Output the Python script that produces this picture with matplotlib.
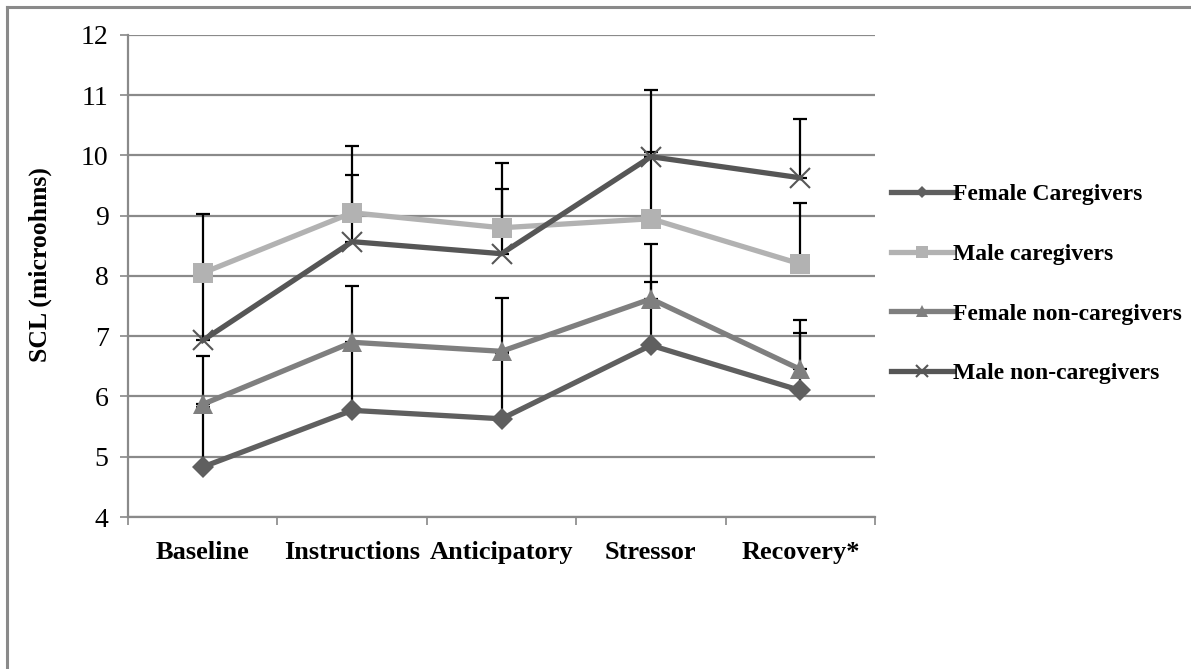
import matplotlib
matplotlib.use("Agg")
import matplotlib.pyplot as plt
from matplotlib.lines import Line2D
import numpy as np

categories = ["Baseline", "Instructions", "Anticipatory", "Stressor", "Recovery*"]
series_names = ["Female Caregivers", "Male caregivers", "Female non-caregivers", "Male non-caregivers"]
female_caregivers = [4.83, 5.77, 5.63, 6.85, 6.10]
male_caregivers = [8.05, 9.05, 8.80, 8.95, 8.20]
female_noncaregivers = [5.87, 6.90, 6.75, 7.62, 6.45]
male_noncaregivers = [6.93, 8.57, 8.37, 9.98, 9.63]
err_female_caregivers = [1.00, 1.10, 1.10, 1.05, 0.95]
err_male_caregivers = [0.98, 1.11, 1.07, 1.10, 1.01]
err_female_noncaregivers = [0.81, 0.93, 0.89, 0.91, 0.82]
err_male_noncaregivers = [1.10, 1.11, 1.07, 1.10, 0.98]
yticks = [4, 5, 6, 7, 8, 9, 10, 11, 12]

values = [female_caregivers, male_caregivers, female_noncaregivers, male_noncaregivers]
errors = [err_female_caregivers, err_male_caregivers, err_female_noncaregivers, err_male_noncaregivers]
colors = ["#5f5f5f", "#b2b2b2", "#7f7f7f", "#565656"]
markers = ["D", "s", "^", "x"]
msizes = [11, 14, 15, 14]

plt.rcParams["font.family"] = ["Liberation Serif", "DejaVu Serif"]

fig = plt.figure(figsize=(11.91, 6.69), dpi=100)
ax = fig.add_axes([0.1075, 0.2272, 0.6272, 0.7205])

x = np.arange(len(categories))
for i, (v, e) in enumerate(zip(values, errors)):
    ax.errorbar(x, v, yerr=[np.zeros(len(e)), e], fmt="none", ecolor="black",
                elinewidth=1.6, capsize=5, capthick=1.6, zorder=3)
handles = []
for i, (v, name) in enumerate(zip(values, series_names)):
    mk = markers[i]
    kw = dict(markeredgewidth=1.5) if mk == "x" else dict(markeredgewidth=0)
    ax.plot(x, v, color=colors[i], lw=3.8, marker=mk, markersize=msizes[i],
            markerfacecolor=colors[i], markeredgecolor=colors[i], zorder=4 + i,
            solid_joinstyle="miter", **kw)
    handles.append(Line2D([0], [0], color=colors[i], lw=3.8, marker=mk,
                          markersize=msizes[i] * 0.6, markerfacecolor=colors[i],
                          markeredgecolor=colors[i], label=name, **kw))

ax.set_xlim(-0.5, len(categories) - 0.5)
ax.set_ylim(4, 12)
ax.set_yticks(yticks)
ax.set_yticklabels([str(t) for t in yticks], fontsize=20)
ax.set_xticks(np.arange(len(categories) + 1) - 0.5)
ax.set_xticklabels([])
ax.set_xticks(x, minor=True)
ax.set_xticklabels(categories, minor=True, fontsize=19, fontweight="bold")
ax.tick_params(axis="x", which="minor", length=0, pad=17)
ax.tick_params(axis="x", which="major", length=6, width=1.2, color="#888888", direction="out")
ax.tick_params(axis="y", length=6, width=1.2, color="#888888", direction="out", pad=8)
ax.grid(axis="y", color="#8a8a8a", lw=1.6, zorder=0)
ax.set_axisbelow(True)
for s in ["top", "right"]:
    ax.spines[s].set_visible(False)
for s in ["left", "bottom"]:
    ax.spines[s].set_color("#8a8a8a")
    ax.spines[s].set_linewidth(1.6)
ax.set_ylabel("SCL (microohms)", fontsize=18.5, fontweight="bold")
ax.yaxis.set_label_coords(-0.102, 0.523)

leg = fig.legend(handles=handles, loc="upper left", bbox_to_anchor=(0.7305, 0.7575),
                 frameon=False, prop={"size": 17, "weight": "bold"},
                 handlelength=2.6, handletextpad=0.0, labelspacing=1.62)

# outer chart frame (top and left edges visible)
fig.add_artist(Line2D([0.0059, 1.0], [0.9895, 0.9895], color="#8a8a8a", lw=2.2, transform=fig.transFigure))
fig.add_artist(Line2D([0.0059, 0.0059], [0.0, 0.9895], color="#8a8a8a", lw=2.2, transform=fig.transFigure))

fig.savefig("out.png", dpi=100)
